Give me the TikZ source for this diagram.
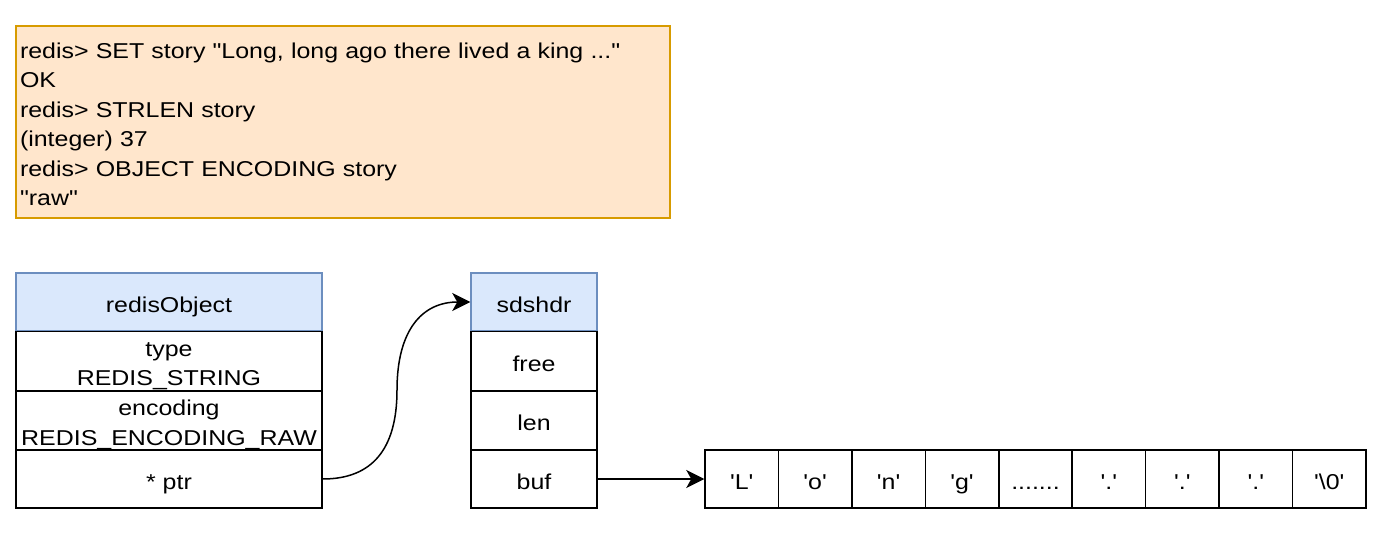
\documentclass[tikz,border=0pt]{standalone}
\usepackage{fontspec}
\setmainfont[Ligatures=TeXOff,FakeStretch=1.16]{Liberation Sans}
\usepackage{xcolor}
\usetikzlibrary{arrows.meta}
\definecolor{headfill}{HTML}{DAE8FC}
\definecolor{headdraw}{HTML}{6C8EBF}
\definecolor{notefill}{HTML}{FFE6CC}
\definecolor{notedraw}{HTML}{D79B00}
\newcommand{\boxfont}{\fontsize{21.5}{29.5}\selectfont}
\newcommand{\ls}{\rule[-4.75pt]{0pt}{29.5pt}}

\begin{document}
\begin{tikzpicture}[x=1pt,y=-1pt,>={Stealth[length=18pt,width=18pt,inset=5pt]},
  field/.style={draw,line width=1.5pt,inner sep=0pt,align=center,font=\boxfont,minimum height=59pt},
  head/.style={field,fill=headfill,draw=headdraw,minimum height=58pt},
  cell/.style={field,minimum width=73.4pt,minimum height=58pt}]

    \useasboundingbox (0,0) rectangle (1392,548);

    % The redis commands
    \node [draw=notedraw,fill=notefill,line width=1.5pt,font=\boxfont,align=left,
      text width=646pt,inner xsep=4pt,inner ysep=0pt,minimum height=192pt] at (343,122) (cmds)
      {\ls redis> SET story "Long, long ago there lived a king ..."\\
       \ls OK\\
       \ls redis> STRLEN story\\
       \ls (integer) 37\\
       \ls redis> OBJECT ENCODING story\\
       \ls "raw"};

    % The redisObject
    \node [head,minimum width=306pt] at (169,302) (robj) {\ls redisObject};
    \node [field,minimum width=306pt] at (169,361) (type) {\ls type\\\ls REDIS\_STRING};
    \node [field,minimum width=306pt] at (169,420.5) (enc) {\ls encoding\\\ls REDIS\_ENCODING\_RAW};
    \node [field,minimum width=306pt,minimum height=58pt] at (169,479) (ptr) {\ls * ptr};

    % The sdshdr
    \node [head,minimum width=126pt] at (534,302) (sds) {\ls sdshdr};
    \node [field,minimum width=126pt] at (534,361) (free) {\ls free};
    \node [field,minimum width=126pt] at (534,420.5) (len) {\ls len};
    \node [field,minimum width=126pt,minimum height=58pt] at (534,479) (buf) {\ls buf};

    % The buffer
    \node [cell] at (741.7,479) (bufL) {\ls 'L'};
    \node [cell] at (815.1,479) (bufo) {\ls 'o'};
    \node [cell] at (888.6,479) (bufn) {\ls 'n'};
    \node [cell] at (962.0,479) (bufg) {\ls 'g'};
    \node [cell] at (1035.5,479) (bufdots) {\ls .......};
    \node [cell] at (1108.9,479) (bufa) {\ls '.'};
    \node [cell] at (1182.4,479) (bufb) {\ls '.'};
    \node [cell] at (1255.8,479) (bufc) {\ls '.'};
    \node [cell] at (1329.3,479) (bufend) {\ls '\textbackslash0'};

    % Pointers
    \coordinate (bend) at (397,390);
    \draw [->,line width=1.5pt] (ptr.east) .. controls (372,479) and (397,449.3) .. (bend)
      .. controls (397,330.7) and (421.7,302) .. (sds.west);
    \draw [->,line width=1.5pt] (buf.east) -- (bufL.west);

\end{tikzpicture}
\end{document}
